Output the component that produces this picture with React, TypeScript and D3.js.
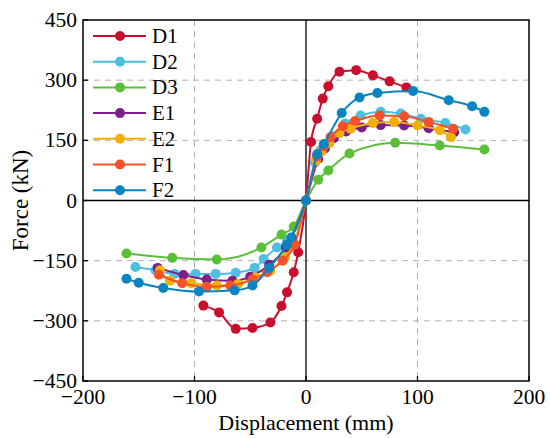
import React, { useEffect, useRef } from "react";
import * as d3 from "d3";

type Pt = [number, number];

const seriesNames = ["D1", "D2", "D3", "E1", "E2", "F1", "F2"];
const seriesColors = ["#c8102e", "#4dbfe0", "#5cbf3a", "#7b1f8a", "#f0b000", "#f5522a", "#0a84c0"];

// displacement (mm), force (kN)
const d1: Pt[] = [
  [-92, -262], [-78, -279], [-63, -320], [-48, -318], [-32, -304], [-22, -263], [-17, -229], [-11, -179], [-7, -129], [0, 0],
  [4.5, 146], [10, 204], [15, 254], [20, 285], [30, 321], [45, 325], [60, 312], [75, 297], [90, 282],
];
const d2: Pt[] = [
  [-153, -166], [-135, -174], [-118, -183], [-99, -183], [-81, -183], [-63, -180], [-46, -168], [-38, -146], [-26, -117], [-17, -100], [0, 0],
  [8, 95], [13, 125], [24, 160], [35, 192], [49, 212], [67, 221], [85, 217], [103, 204], [125, 193], [143, 177],
];
const d3s: Pt[] = [
  [-161, -132], [-120, -143], [-80, -147], [-40, -117], [-22, -85], [-11, -65], [0, 0],
  [11, 52], [20, 75], [39, 117], [80, 144], [120, 137], [160, 127],
];
const e1: Pt[] = [
  [-133, -168], [-110, -186], [-89, -197], [-66, -200], [-50, -190], [-33, -160], [-18, -118], [0, 0],
  [11, 104], [17, 130], [25, 155], [36, 172], [50, 182], [67, 188], [88, 187], [110, 180], [133, 170],
];
const e2: Pt[] = [
  [-131, -174], [-122, -200], [-103, -206], [-80, -212], [-61, -208], [-45, -192], [-32, -175], [-19, -142], [-11, -108], [0, 0],
  [9, 100], [14, 122], [21, 143], [30, 168], [40, 179], [60, 193], [79, 196], [100, 187], [120, 175], [130, 158],
];
const f1: Pt[] = [
  [-132, -185], [-111, -206], [-89, -215], [-68, -212], [-48, -197], [-35, -179], [-21, -150], [-10, -110], [0, 0],
  [10, 110], [16, 135], [22, 158], [33, 185], [44, 198], [66, 212], [88, 210], [110, 196], [132, 179],
];
const f2: Pt[] = [
  [-161, -195], [-150, -205], [-128, -218], [-96, -227], [-64, -224], [-48, -212], [-33, -168], [-17, -110], [-13, -92], [0, 0],
  [10, 115], [16, 141], [32, 218], [48, 257], [64, 268], [96, 273], [128, 250], [149, 235], [160, 221],
];
const seriesData = [d1, d2, d3s, e1, e2, f1, f2];

const xTicks = [-200, -100, 0, 100, 200];
const yTicks = [-450, -300, -150, 0, 150, 300, 450];

function App() {
  const ref = useRef<SVGSVGElement | null>(null);

  useEffect(() => {
    const svg = d3.select(ref.current);
    svg.selectAll("*").remove();

    const left = 83, right = 529, top = 20, bottom = 381;
    const x = d3.scaleLinear().domain([-200, 200]).range([left, right]);
    const y = d3.scaleLinear().domain([-450, 450]).range([bottom, top]);
    const font = "'Liberation Serif', 'Times New Roman', serif";
    const fmt = (t: number) => (t < 0 ? "\u2212" + Math.abs(t) : String(t));

    svg.append("rect").attr("width", 550).attr("height", 438).attr("fill", "white");

    // grid
    [-100, 100].forEach((t) =>
      svg.append("line")
        .attr("x1", x(t)).attr("x2", x(t)).attr("y1", top).attr("y2", bottom)
        .attr("stroke", "#b0b0b0").attr("stroke-width", 1).attr("stroke-dasharray", "6,5")
    );
    [-300, -150, 150, 300].forEach((t) =>
      svg.append("line")
        .attr("x1", left).attr("x2", right).attr("y1", y(t)).attr("y2", y(t))
        .attr("stroke", "#b0b0b0").attr("stroke-width", 1).attr("stroke-dasharray", "6,5")
    );

    // zero lines
    svg.append("line").attr("x1", x(0)).attr("x2", x(0)).attr("y1", top).attr("y2", bottom)
      .attr("stroke", "black").attr("stroke-width", 1.3);
    svg.append("line").attr("x1", left).attr("x2", right).attr("y1", y(0)).attr("y2", y(0))
      .attr("stroke", "black").attr("stroke-width", 1.3);

    // ticks
    xTicks.forEach((t) => {
      svg.append("line").attr("x1", x(t)).attr("x2", x(t)).attr("y1", bottom).attr("y2", bottom - 5)
        .attr("stroke", "black").attr("stroke-width", 1.3);
      svg.append("text").attr("x", x(t)).attr("y", bottom + 23)
        .attr("text-anchor", "middle").attr("font-family", font).attr("font-size", 21.5)
        .text(fmt(t));
    });
    yTicks.forEach((t) => {
      svg.append("line").attr("x1", left).attr("x2", left + 5).attr("y1", y(t)).attr("y2", y(t))
        .attr("stroke", "black").attr("stroke-width", 1.3);
      svg.append("text").attr("x", left - 6).attr("y", y(t) + 7)
        .attr("text-anchor", "end").attr("font-family", font).attr("font-size", 21.5)
        .text(fmt(t));
    });

    // frame
    svg.append("rect").attr("x", left).attr("y", top).attr("width", right - left).attr("height", bottom - top)
      .attr("fill", "none").attr("stroke", "black").attr("stroke-width", 1.5);

    // axis titles
    svg.append("text").attr("x", x(0)).attr("y", 430)
      .attr("text-anchor", "middle").attr("font-family", font).attr("font-size", 22)
      .text("Displacement (mm)");
    svg.append("text").attr("transform", `translate(28,${y(0)}) rotate(-90)`)
      .attr("text-anchor", "middle").attr("font-family", font).attr("font-size", 23)
      .text("Force (kN)");

    // series
    const line = d3.line<Pt>().x((d) => x(d[0])).y((d) => y(d[1])).curve(d3.curveMonotoneX);
    seriesData.forEach((data, i) => {
      const color = seriesColors[i];
      const g = svg.append("g");
      g.append("path").datum(data).attr("d", line)
        .attr("fill", "none").attr("stroke", color).attr("stroke-width", 2);
      g.selectAll("circle").data(data).enter().append("circle")
        .attr("cx", (d) => x(d[0])).attr("cy", (d) => y(d[1])).attr("r", 5)
        .attr("fill", color);
    });

    // legend
    seriesNames.forEach((name, i) => {
      const ly = 36 + i * 25.7;
      const color = seriesColors[i];
      svg.append("line").attr("x1", 93).attr("x2", 146).attr("y1", ly).attr("y2", ly)
        .attr("stroke", color).attr("stroke-width", 2);
      svg.append("circle").attr("cx", 120).attr("cy", ly).attr("r", 5).attr("fill", color);
      svg.append("text").attr("x", 152).attr("y", ly + 7)
        .attr("font-family", font).attr("font-size", 21).text(name);
    });
  }, []);

  return (
    <div style={{ position: "absolute", left: 0, top: 0 }}>
      <svg ref={ref} width={550} height={438} />
    </div>
  );
}

export default App;
